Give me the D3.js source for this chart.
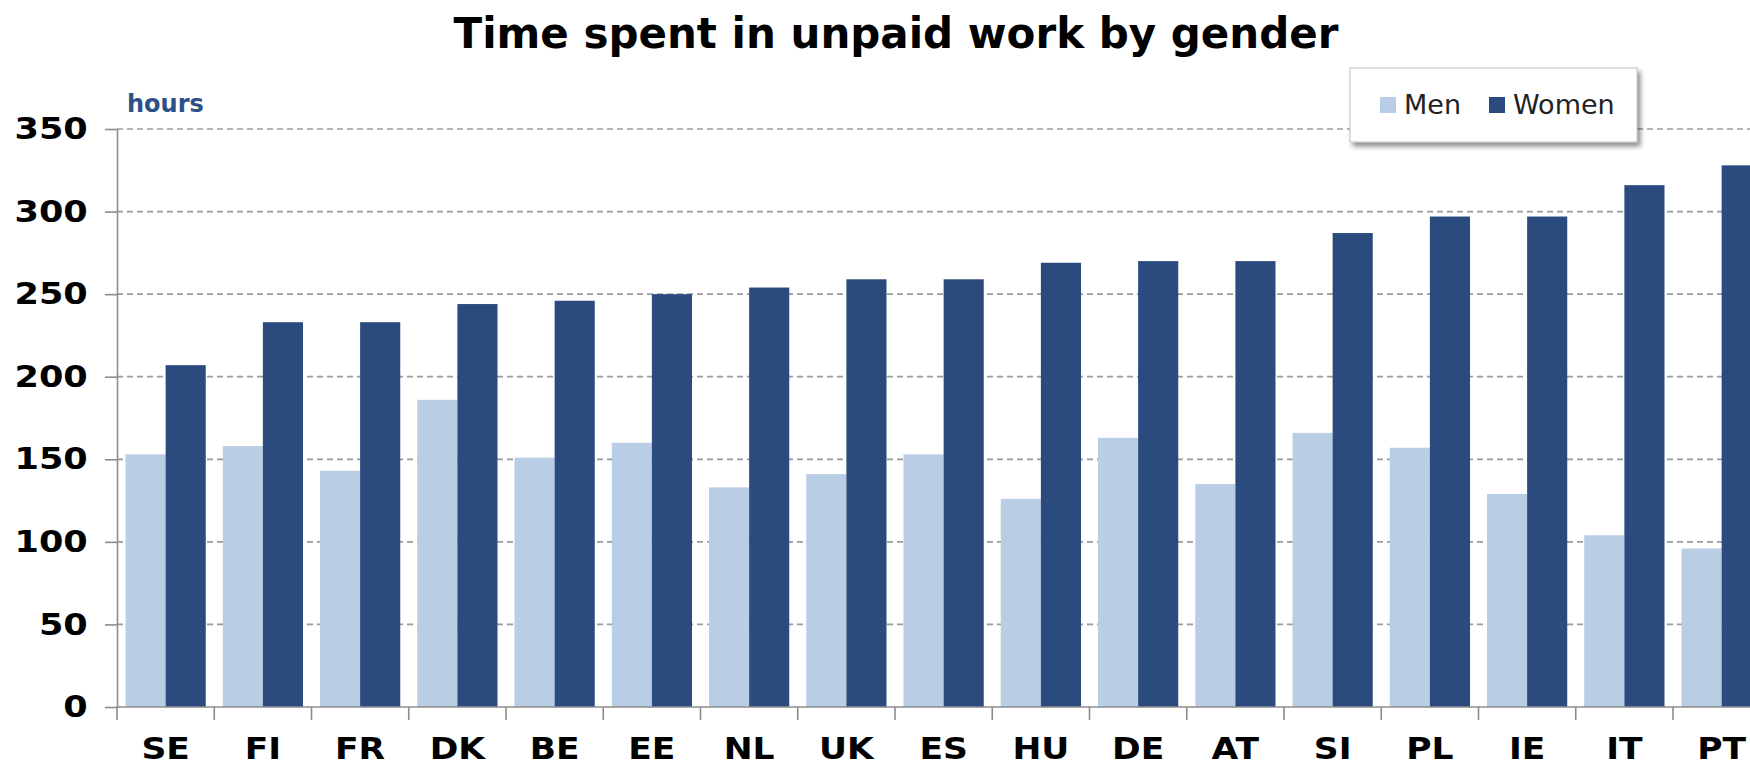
<!DOCTYPE html>
<html>
<head>
<meta charset="utf-8">
<script src="https://cdn.jsdelivr.net/npm/d3@7"></script>
<style>
  body { margin: 0; background: #fff; }
  svg { display: block; }
  text { font-family: "DejaVu Sans", Verdana, sans-serif; }
</style>
</head>
<body>
<div id="chart"></div>
<script>
  // data
  let countries = ["SE", "FI", "FR", "DK", "BE", "EE", "NL", "UK", "ES", "HU", "DE", "AT", "SI", "PL", "IE", "IT", "PT"];
  let men = [153, 158, 143, 186, 151, 160, 133, 141, 153, 126, 163, 135, 166, 157, 129, 104, 96];
  let women = [207, 233, 233, 244, 246, 250, 254, 259, 259, 269, 270, 270, 287, 297, 297, 316, 328];
  let series = ["Men", "Women"];
  let yTicks = [0, 50, 100, 150, 200, 250, 300, 350];

  let chartW = 1750;
  let chartH = 766;
  let plotLeft = 117;
  let bandW = 97.25;
  let plotTop = 129;
  let plotBottom = 707;

  let colors = {Men: "#b9cde5", Women: "#2b4b7e"};

  let svg = d3.select("#chart").append("svg")
    .attr("width", chartW)
    .attr("height", chartH);

  // shadow for the legend box
  let defs = svg.append("defs");
  let f = defs.append("filter").attr("id", "shadow").attr("x", "-10%").attr("y", "-10%").attr("width", "130%").attr("height", "150%");
  f.append("feDropShadow").attr("dx", 3).attr("dy", 4).attr("stdDeviation", 2.5)
    .attr("flood-color", "#000").attr("flood-opacity", 0.45);

  let x0 = d3.scaleBand()
    .domain(countries)
    .range([plotLeft, plotLeft + bandW * countries.length])
    .padding(0);

  let x1 = d3.scaleBand()
    .domain(series)
    .range([8.5, bandW - 8.5])
    .padding(0);

  let y = d3.scaleLinear()
    .domain([0, 350])
    .range([plotBottom, plotTop]);

  // gridlines
  svg.append("g")
    .selectAll("line")
    .data(yTicks.filter(function(d) { return d > 0; }))
    .join("line")
    .attr("x1", plotLeft)
    .attr("x2", chartW)
    .attr("y1", function(d) { return y(d); })
    .attr("y2", function(d) { return y(d); })
    .attr("stroke", "#9a9a9a")
    .attr("stroke-width", 1.7)
    .attr("stroke-dasharray", "6,4");

  // bars
  let data = countries.map(function(c, i) {
    return {country: c, values: [{key: "Men", value: men[i]}, {key: "Women", value: women[i]}]};
  });

  svg.append("g")
    .selectAll("g")
    .data(data)
    .join("g")
    .attr("transform", function(d) { return "translate(" + x0(d.country) + ",0)"; })
    .selectAll("rect")
    .data(function(d) { return d.values; })
    .join("rect")
    .attr("x", function(d) { return x1(d.key); })
    .attr("width", x1.bandwidth())
    .attr("y", function(d) { return y(d.value); })
    .attr("height", function(d) { return y(0) - y(d.value); })
    .attr("fill", function(d) { return colors[d.key]; });

  // y axis -- labels stretched a bit to get closer to the wide Verdana look
  let yAxis = svg.append("g")
    .attr("transform", "translate(" + plotLeft + ",0)")
    .call(d3.axisLeft(y).tickValues(yTicks).tickSize(12).tickPadding(13).tickSizeOuter(0));
  yAxis.select(".domain").attr("stroke", "#8c8c8c").attr("stroke-width", 1.6);
  yAxis.selectAll(".tick line").attr("stroke", "#8c8c8c").attr("stroke-width", 1.6);
  yAxis.selectAll(".tick text")
    .attr("font-family", "'DejaVu Sans', Verdana, sans-serif")
    .attr("font-size", 30)
    .attr("font-weight", "bold")
    .attr("transform", "scale(1.17,1)")
    .attr("fill", "#000");

  // x axis
  let xAxis = svg.append("g")
    .attr("transform", "translate(0," + plotBottom + ")")
    .call(d3.axisBottom(x0).tickSize(0).tickPadding(31));
  xAxis.select(".domain").remove();
  xAxis.selectAll(".tick text")
    .attr("font-family", "'DejaVu Sans', Verdana, sans-serif")
    .attr("font-size", 30)
    .attr("font-weight", "bold")
    .attr("transform", "scale(1.15,1)")
    .attr("fill", "#000");

  svg.append("line")
    .attr("x1", plotLeft).attr("x2", chartW)
    .attr("y1", plotBottom).attr("y2", plotBottom)
    .attr("stroke", "#8c8c8c").attr("stroke-width", 1.6);

  // category separators below the axis
  svg.append("g")
    .selectAll("line")
    .data(countries)
    .join("line")
    .attr("x1", function(d) { return x0(d); })
    .attr("x2", function(d) { return x0(d); })
    .attr("y1", plotBottom)
    .attr("y2", plotBottom + 13)
    .attr("stroke", "#8c8c8c")
    .attr("stroke-width", 1.6);

  // unit label
  svg.append("text")
    .attr("x", 127)
    .attr("y", 112)
    .attr("font-size", 24)
    .attr("font-weight", "bold")
    .attr("fill", "#2e5089")
    .text("hours");

  // title
  svg.append("text")
    .attr("x", 896)
    .attr("y", 48)
    .attr("text-anchor", "middle")
    .attr("font-size", 42)
    .attr("font-weight", "bold")
    .attr("fill", "#000")
    .text("Time spent in unpaid work by gender");

  // legend
  let legend = svg.append("g");
  legend.append("rect")
    .attr("x", 1350).attr("y", 68)
    .attr("width", 287).attr("height", 74)
    .attr("fill", "#fff")
    .attr("stroke", "#bfbfbf")
    .attr("stroke-width", 1)
    .attr("filter", "url(#shadow)");

  let legendX = [1380, 1489];
  series.forEach(function(s, i) {
    legend.append("rect")
      .attr("x", legendX[i]).attr("y", 97)
      .attr("width", 16).attr("height", 16)
      .attr("fill", colors[s]);
    legend.append("text")
      .attr("x", legendX[i] + 24)
      .attr("y", 114)
      .attr("font-size", 27)
      .attr("fill", "#222")
      .text(s);
  });
</script>
</body>
</html>
